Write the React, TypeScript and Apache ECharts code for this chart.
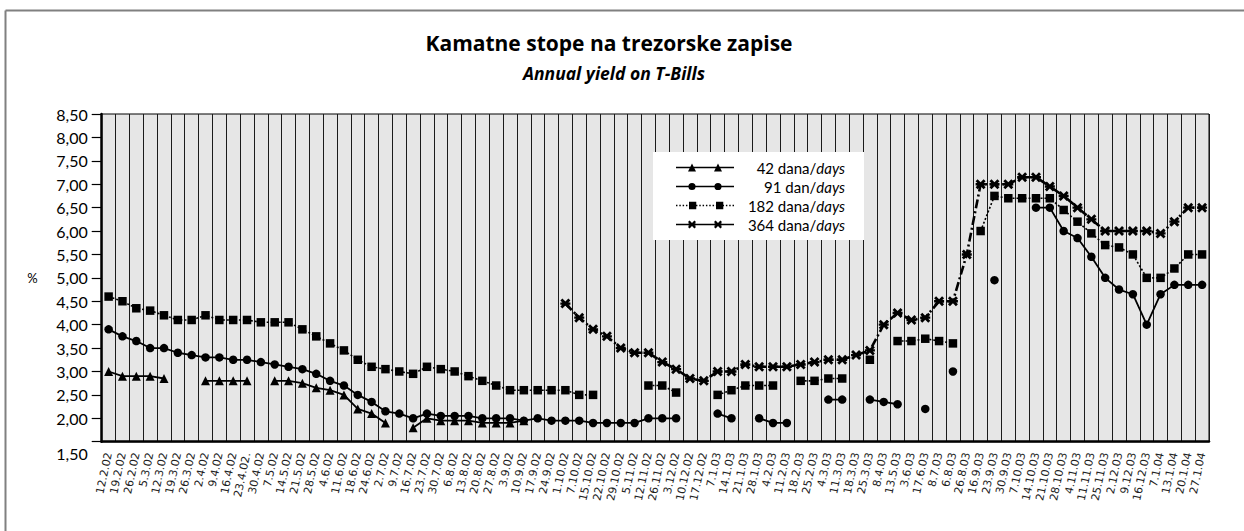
import React, { useEffect, useRef } from 'react';
import * as echarts from 'echarts';

const categories = [
  '12.2.02', '19.2.02', '26.2.02', '5.3.02', '12.3.02', '19.3.02', '26.3.02', '2.4.02', '9.4.02', '16.4.02',
  '23.4.02.', '30.4.02', '7.5.02', '14.5.02', '21.5.02', '28.5.02', '4.6.02', '11.6.02', '18.6.02', '24.6.02',
  '2.7.02', '9.7.02', '16.7.02', '23.7.02', '30.7.02', '6.8.02', '13.8.02', '20.8.02', '27.8.02', '3.9.02',
  '10.9.02', '17.9.02', '24.9.02', '1.10.02', '7.10.02', '15.10.02', '22.10.02', '29.10.02', '5.11.02', '12.11.02',
  '26.11.02', '3.12.02', '10.12.02', '17.12.02', '7.1.03', '14.1.03', '21.1.03', '28.1.03', '4.2.03', '11.2.03',
  '18.2.03', '25.2.03', '4.3.03', '11.3.03', '18.3.03', '25.3.03', '8.4.03', '13.5.03', '3.6.03', '17.6.03',
  '8.7.03', '6.8.03', '26.8.03', '16.9.03', '23.9.03', '30.9.03', '7.10.03', '14.10.03', '21.10.03', '28.10.03',
  '4.11.03', '11.11.03', '25.11.03', '2.12.03', '9.12.03', '16.12.03', '7.1.04', '13.1.04', '20.1.04', '27.1.04',
];

const days42 = [
  3.0, 2.9, 2.9, 2.9, 2.85, null, null, 2.8, 2.8, 2.8,
  2.8, null, 2.8, 2.8, 2.75, 2.65, 2.6, 2.5, 2.2, 2.1,
  1.9, null, 1.8, 2.0, 1.95, 1.95, 1.95, 1.9, 1.9, 1.9,
  1.95, null, null, null, null, null, null, null, null, null,
  null, null, null, null, null, null, null, null, null, null,
  null, null, null, null, null, null, null, null, null, null,
  null, null, null, null, null, null, null, null, null, null,
  null, null, null, null, null, null, null, null, null, null,
];

const days91 = [
  3.9, 3.75, 3.65, 3.5, 3.5, 3.4, 3.35, 3.3, 3.3, 3.25,
  3.25, 3.2, 3.15, 3.1, 3.05, 2.95, 2.8, 2.7, 2.5, 2.35,
  2.15, 2.1, 2.0, 2.1, 2.05, 2.05, 2.05, 2.0, 2.0, 2.0,
  1.95, 2.0, 1.95, 1.95, 1.95, 1.9, 1.9, 1.9, 1.9, 2.0,
  2.0, 2.0, null, null, 2.1, 2.0, null, 2.0, 1.9, 1.9,
  null, null, 2.4, 2.4, null, 2.4, 2.35, 2.3, null, 2.2,
  null, 3.0, null, null, 4.95, null, null, 6.5, 6.5, 6.0,
  5.85, 5.45, 5.0, 4.75, 4.65, 4.0, 4.65, 4.85, 4.85, 4.85,
];

const days182 = [
  4.6, 4.5, 4.35, 4.3, 4.2, 4.1, 4.1, 4.2, 4.1, 4.1,
  4.1, 4.05, 4.05, 4.05, 3.9, 3.75, 3.6, 3.45, 3.25, 3.1,
  3.05, 3.0, 2.95, 3.1, 3.05, 3.0, 2.9, 2.8, 2.7, 2.6,
  2.6, 2.6, 2.6, 2.6, 2.5, 2.5, null, null, null, 2.7,
  2.7, 2.55, null, null, 2.5, 2.6, 2.7, 2.7, 2.7, null,
  2.8, 2.8, 2.85, 2.85, null, 3.25, null, 3.65, 3.65, 3.7,
  3.65, 3.6, null, 6.0, 6.75, 6.7, 6.7, 6.7, 6.7, 6.45,
  6.2, 5.95, 5.7, 5.65, 5.5, 5.0, 5.0, 5.2, 5.5, 5.5,
];

const days364 = [
  null, null, null, null, null, null, null, null, null, null,
  null, null, null, null, null, null, null, null, null, null,
  null, null, null, null, null, null, null, null, null, null,
  null, null, null, 4.45, 4.15, 3.9, 3.75, 3.5, 3.4, 3.4,
  3.2, 3.05, 2.85, 2.8, 3.0, 3.0, 3.15, 3.1, 3.1, 3.1,
  3.15, 3.2, 3.25, 3.25, 3.35, 3.45, 4.0, 4.25, 4.1, 4.15,
  4.5, 4.5, 5.5, 7.0, 7.0, 7.0, 7.15, 7.15, 6.95, 6.75,
  6.5, 6.25, 6.0, 6.0, 6.0, 6.0, 5.95, 6.2, 6.5, 6.5,
];

const seriesNames = ['42 dana/days', '91 dan/days', '182 dana/days', '364 dana/days'];
const titleText = 'Kamatne stope na trezorske zapise';
const subtitleText = 'Annual yield on T-Bills';
const yAxisName = '%';

const FONT = 'Lato, "Open Sans", sans-serif';
const TITLE_FONT = '"Open Sans", Lato, sans-serif';
const LABEL_FONT = '"DejaVu Sans", Verdana, sans-serif';

// bold asterisk-like cross marker
const X_MARK =
  'path://M-5,-3 L-3,-5 L0,-2 L3,-5 L5,-3 L2,0 L5,3 L3,5 L0,2 L-3,5 L-5,3 L-2,0 Z M-5,-1.2 L5,-1.2 L5,1.2 L-5,1.2 Z';

// legend icons (58 x 8 box)
const lineRect = (x0: number, x1: number) => `M${x0},3.3 L${x1},3.3 L${x1},4.7 L${x0},4.7 Z `;
const tri = (cx: number) => `M${cx - 4},8 L${cx},0 L${cx + 4},8 Z `;
const circ = (cx: number) =>
  `M${cx - 3.6},4 A3.6,3.6 0 1,1 ${cx + 3.6},4 A3.6,3.6 0 1,1 ${cx - 3.6},4 Z `;
const sq = (cx: number) => `M${cx - 3.5},0.5 L${cx + 3.5},0.5 L${cx + 3.5},7.5 L${cx - 3.5},7.5 Z `;
const xm = (cx: number) =>
  `M${cx - 4},1.6 L${cx - 2.4},0 L${cx},2.4 L${cx + 2.4},0 L${cx + 4},1.6 L${cx + 1.6},4 L${cx + 4},6.4 L${cx + 2.4},8 L${cx},5.6 L${cx - 2.4},8 L${cx - 4},6.4 L${cx - 1.6},4 Z M${cx - 4},3 L${cx + 4},3 L${cx + 4},5 L${cx - 4},5 Z `;

function dots() {
  let d = '';
  for (let x = 0; x <= 56.6; x += 3.2) d += lineRect(+x.toFixed(2), +(x + 1.4).toFixed(2));
  return d;
}

const legendIcons = [
  'path://' + lineRect(0, 58) + tri(16) + tri(42),
  'path://' + lineRect(0, 58) + circ(16) + circ(42),
  'path://' + dots() + sq(16) + sq(42),
  'path://' + lineRect(0, 12) + lineRect(20, 38) + lineRect(46, 58) + xm(16) + xm(42),
];

export default function App() {
  const ref = useRef<HTMLDivElement>(null);

  useEffect(() => {
    if (!ref.current) return;
    const chart = echarts.init(ref.current, null, { renderer: 'svg' });

    const fmt = (v: number) => v.toFixed(2).replace('.', ',');

    const option: any = {
      animation: false,
      backgroundColor: '#fff',
      grid: {
        left: 101.7,
        top: 114,
        right: 35,
        bottom: 89.3,
        show: true,
        backgroundColor: '#e6e6e6',
        borderColor: '#000',
        borderWidth: 1,
      },
      legend: {
        orient: 'vertical',
        left: 653,
        top: 152,
        backgroundColor: '#fff',
        padding: [8, 19, 8, 23],
        itemWidth: 58,
        itemHeight: 8,
        itemGap: 4,
        itemStyle: { borderWidth: 0 },
        data: seriesNames.map((n, i) => ({ name: n, icon: legendIcons[i] })),
        formatter: (name: string) => {
          const idx = name.indexOf('/');
          return `{n|${name.slice(0, idx + 1)}}{i|${name.slice(idx + 1)}}`;
        },
        textStyle: {
          width: 106,
          color: '#000',
          fontFamily: FONT,
          fontSize: 15,
          rich: {
            n: { fontFamily: FONT, fontSize: 15, color: '#000', align: 'right' },
            i: { fontFamily: FONT, fontSize: 15, color: '#000', fontStyle: 'italic', align: 'right' },
          },
        },
      },
      xAxis: {
        type: 'category',
        data: categories,
        boundaryGap: true,
        axisLine: { show: true, lineStyle: { color: '#000', width: 2.5 } },
        axisTick: { show: false },
        splitLine: { show: true, interval: 0, lineStyle: { color: '#1a1a1a', width: 1 } },
        axisLabel: {
          interval: 0,
          rotate: 78,
          margin: 11,
          fontFamily: LABEL_FONT,
          fontSize: 11,
          color: '#222',
        },
      },
      yAxis: {
        type: 'value',
        min: 1.5,
        max: 8.5,
        interval: 0.5,
        name: yAxisName,
        nameLocation: 'middle',
        nameRotate: 0,
        nameGap: 64,
        nameTextStyle: { fontFamily: FONT, fontSize: 13, color: '#000' },
        axisLine: { show: true, lineStyle: { color: '#000', width: 2.5 } },
        axisTick: { show: true, length: 10, lineStyle: { color: '#000', width: 1.2 } },
        splitLine: { show: false },
        axisLabel: {
          margin: 14,
          fontFamily: FONT,
          fontSize: 16,
          color: '#000',
          formatter: (v: number) => (v === 1.5 ? `{lo|${fmt(v)}}` : fmt(v)),
          rich: {
            lo: { fontFamily: FONT, fontSize: 16, color: '#000', padding: [24, 0, 0, 0] },
          },
        },
      },
      series: [
        {
          name: seriesNames[0],
          type: 'line',
          data: days42,
          symbol: 'triangle',
          symbolSize: 9,
          showAllSymbol: true,
          connectNulls: false,
          color: '#000',
          lineStyle: { color: '#000', width: 1.8, type: 'solid' },
          itemStyle: { color: '#000' },
        },
        {
          name: seriesNames[1],
          type: 'line',
          data: days91,
          symbol: 'circle',
          symbolSize: 8.5,
          showAllSymbol: true,
          connectNulls: false,
          color: '#000',
          lineStyle: { color: '#000', width: 1.8, type: 'solid' },
          itemStyle: { color: '#000' },
        },
        {
          name: seriesNames[2],
          type: 'line',
          data: days182,
          symbol: 'rect',
          symbolSize: 8.5,
          showAllSymbol: true,
          connectNulls: false,
          color: '#000',
          lineStyle: { color: '#000', width: 1.6, type: [2, 2] },
          itemStyle: { color: '#000' },
        },
        {
          name: seriesNames[3],
          type: 'line',
          data: days364,
          symbol: X_MARK,
          symbolSize: 10,
          showAllSymbol: true,
          connectNulls: false,
          color: '#000',
          lineStyle: { color: '#000', width: 2.6, type: [9, 3, 2, 3] },
          itemStyle: { color: '#000' },
        },
      ],
      graphic: [
        { type: 'line', shape: { x1: 5.5, y1: 10.5, x2: 1244, y2: 10.5 }, style: { stroke: '#808080', lineWidth: 2 } },
        { type: 'line', shape: { x1: 5.5, y1: 10.5, x2: 5.5, y2: 531 }, style: { stroke: '#808080', lineWidth: 2 } },
        {
          type: 'text',
          x: 609,
          y: 43,
          style: {
            text: titleText,
            align: 'center',
            verticalAlign: 'middle',
            fontFamily: TITLE_FONT,
            fontWeight: 'bold',
            fontSize: 21,
            fill: '#000',
          },
        },
        {
          type: 'text',
          x: 614,
          y: 73,
          style: {
            text: subtitleText,
            align: 'center',
            verticalAlign: 'middle',
            fontFamily: TITLE_FONT,
            fontWeight: 'bold',
            fontStyle: 'italic',
            fontSize: 17.5,
            fill: '#000',
          },
        },
      ],
    };

    chart.setOption(option);
    return () => chart.dispose();
  }, []);

  return (
    <div
      ref={ref}
      style={{ position: 'fixed', left: 0, top: 0, width: 1244, height: 531, background: '#fff' }}
    />
  );
}
